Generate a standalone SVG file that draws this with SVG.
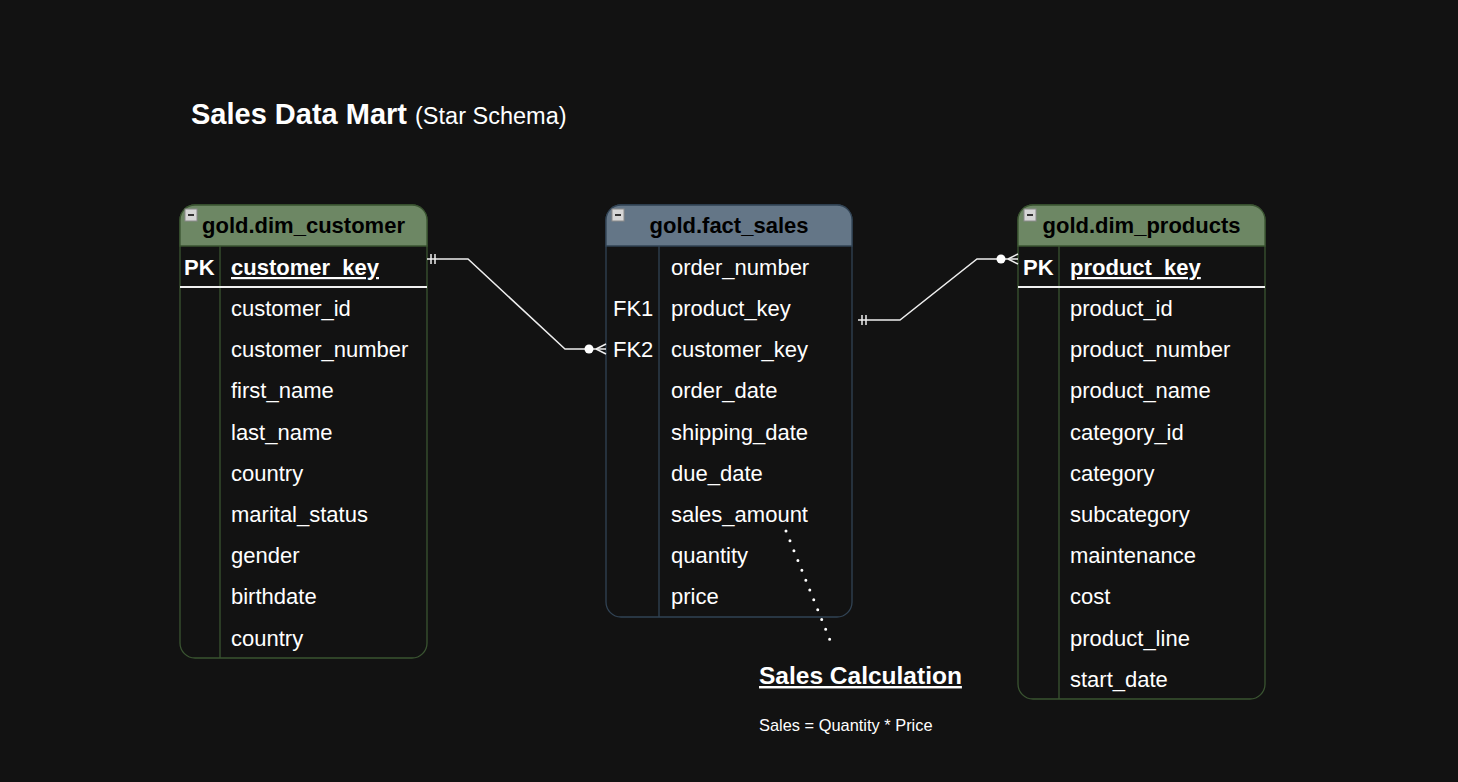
<svg xmlns="http://www.w3.org/2000/svg" width="1458" height="782" viewBox="0 0 1458 782">
<style>
.t{font-family:"Liberation Sans",Arial,sans-serif;}
.row{font-family:"Liberation Sans",Arial,sans-serif;font-size:22px;fill:#ffffff;}
.key{font-family:"Liberation Sans",Arial,sans-serif;font-size:22px;fill:#ffffff;font-weight:bold;}
.hdr{font-family:"Liberation Sans",Arial,sans-serif;font-size:22px;font-weight:bold;fill:#000000;text-anchor:middle;}
.body{fill:#121212;stroke-width:1.3;}
.green .body,.green .sep{stroke:#3A5431;}
.green .head{fill:#6d8764;stroke:#3A5431;stroke-width:1.3;}
.blue .body,.blue .sep{stroke:#314354;}
.blue .head{fill:#647687;stroke:#314354;stroke-width:1.3;}
.sep{stroke-width:1.3;fill:none;}
.pkline{stroke:#f0f0f0;stroke-width:2;}
.tog{fill:#d6d6d6;stroke:#8a8a8a;stroke-width:1;}
.togm{stroke:#333;stroke-width:2;}
.conn{fill:none;stroke:#eeeeee;stroke-width:1.5;}
</style>
<defs>
<marker id="mOne" markerUnits="userSpaceOnUse" viewBox="-20 -10 25 20" refX="0" refY="0" markerWidth="25" markerHeight="20" orient="auto-start-reverse">
<path d="M-4,-5 V5 M-8,-5 V5" stroke="#eeeeee" stroke-width="1.5" fill="none"/>
</marker>
<marker id="mZeroMany" markerUnits="userSpaceOnUse" viewBox="-25 -10 30 20" refX="0" refY="0" markerWidth="30" markerHeight="20" orient="auto-start-reverse">
<path d="M-10,0 L0,-5 M-10,0 L0,5" stroke="#eeeeee" stroke-width="1.5" fill="none"/>
<circle cx="-17" cy="0" r="4.5" fill="#ffffff"/>
</marker>
</defs>
<rect x="0" y="0" width="1458" height="782" fill="#121212"/>

<g id="title">
<text class="t" x="191" y="124" font-size="29" font-weight="bold" fill="#ffffff">Sales Data Mart <tspan font-weight="normal" font-size="23.5">(Star Schema)</tspan></text>
</g>

<g id="dim_customer" class="green">
<rect class="body" x="180" y="205" width="247" height="453" rx="15"/>
<path class="head" d="M180,246 V220 A15,15 0 0 1 195,205 H412 A15,15 0 0 1 427,220 V246 Z"/>
<line class="sep" x1="220" y1="246" x2="220" y2="658"/>
<line class="pkline" x1="180" y1="287" x2="427" y2="287"/>
<rect class="tog" x="185" y="209" width="12" height="12"/>
<line class="togm" x1="188" y1="215" x2="194" y2="215"/>
<text class="hdr" x="303.5" y="233">gold.dim_customer</text>
<text class="key" x="184" y="275">PK</text>
<text class="key" x="231" y="275" text-decoration="underline">customer_key</text>
<text class="row" x="231" y="316">customer_id</text>
<text class="row" x="231" y="357">customer_number</text>
<text class="row" x="231" y="398">first_name</text>
<text class="row" x="231" y="439.5">last_name</text>
<text class="row" x="231" y="480.5">country</text>
<text class="row" x="231" y="522">marital_status</text>
<text class="row" x="231" y="563">gender</text>
<text class="row" x="231" y="604">birthdate</text>
<text class="row" x="231" y="645.5">country</text>
</g>

<g id="fact_sales" class="blue">
<rect class="body" x="606" y="205" width="246" height="412" rx="15"/>
<path class="head" d="M606,246 V220 A15,15 0 0 1 621,205 H837 A15,15 0 0 1 852,220 V246 Z"/>
<line class="sep" x1="659" y1="246" x2="659" y2="617"/>
<rect class="tog" x="612" y="209" width="12" height="12"/>
<line class="togm" x1="615" y1="215" x2="621" y2="215"/>
<text class="hdr" x="729" y="233">gold.fact_sales</text>
<text class="row" x="671" y="275">order_number</text>
<text class="row" x="613" y="316">FK1</text>
<text class="row" x="671" y="316">product_key</text>
<text class="row" x="613" y="357">FK2</text>
<text class="row" x="671" y="357">customer_key</text>
<text class="row" x="671" y="398">order_date</text>
<text class="row" x="671" y="439.5">shipping_date</text>
<text class="row" x="671" y="480.5">due_date</text>
<text class="row" x="671" y="522">sales_amount</text>
<text class="row" x="671" y="563">quantity</text>
<text class="row" x="671" y="604">price</text>
</g>

<g id="dim_products" class="green">
<rect class="body" x="1018" y="205" width="247" height="494" rx="15"/>
<path class="head" d="M1018,246 V220 A15,15 0 0 1 1033,205 H1250 A15,15 0 0 1 1265,220 V246 Z"/>
<line class="sep" x1="1059" y1="246" x2="1059" y2="699"/>
<line class="pkline" x1="1018" y1="287" x2="1265" y2="287"/>
<rect class="tog" x="1024" y="209" width="12" height="12"/>
<line class="togm" x1="1027" y1="215" x2="1033" y2="215"/>
<text class="hdr" x="1141.5" y="233">gold.dim_products</text>
<text class="key" x="1023" y="275">PK</text>
<text class="key" x="1070" y="275" text-decoration="underline">product_key</text>
<text class="row" x="1070" y="316">product_id</text>
<text class="row" x="1070" y="357">product_number</text>
<text class="row" x="1070" y="398">product_name</text>
<text class="row" x="1070" y="439.5">category_id</text>
<text class="row" x="1070" y="480.5">category</text>
<text class="row" x="1070" y="522">subcategory</text>
<text class="row" x="1070" y="563">maintenance</text>
<text class="row" x="1070" y="604">cost</text>
<text class="row" x="1070" y="645.5">product_line</text>
<text class="row" x="1070" y="687">start_date</text>
</g>

<g id="sales_calc">
<text class="t" x="759" y="684" font-size="24.5" font-weight="bold" fill="#ffffff" text-decoration="underline">Sales Calculation</text>
<text class="t" x="759" y="731" font-size="16.4" fill="#ffffff">Sales = Quantity * Price</text>
</g>

<g id="connectors">
<path class="conn" d="M427,259 H468 L565,349 H606" marker-start="url(#mOne)" marker-end="url(#mZeroMany)"/>
<path class="conn" d="M858,320 H900 L977,259 H1018" marker-start="url(#mOne)" marker-end="url(#mZeroMany)"/>
<path d="M786,531 L832,645" fill="none" stroke="#ffffff" stroke-width="3" stroke-linecap="round" stroke-dasharray="0 10.6"/>
</g>
</svg>
